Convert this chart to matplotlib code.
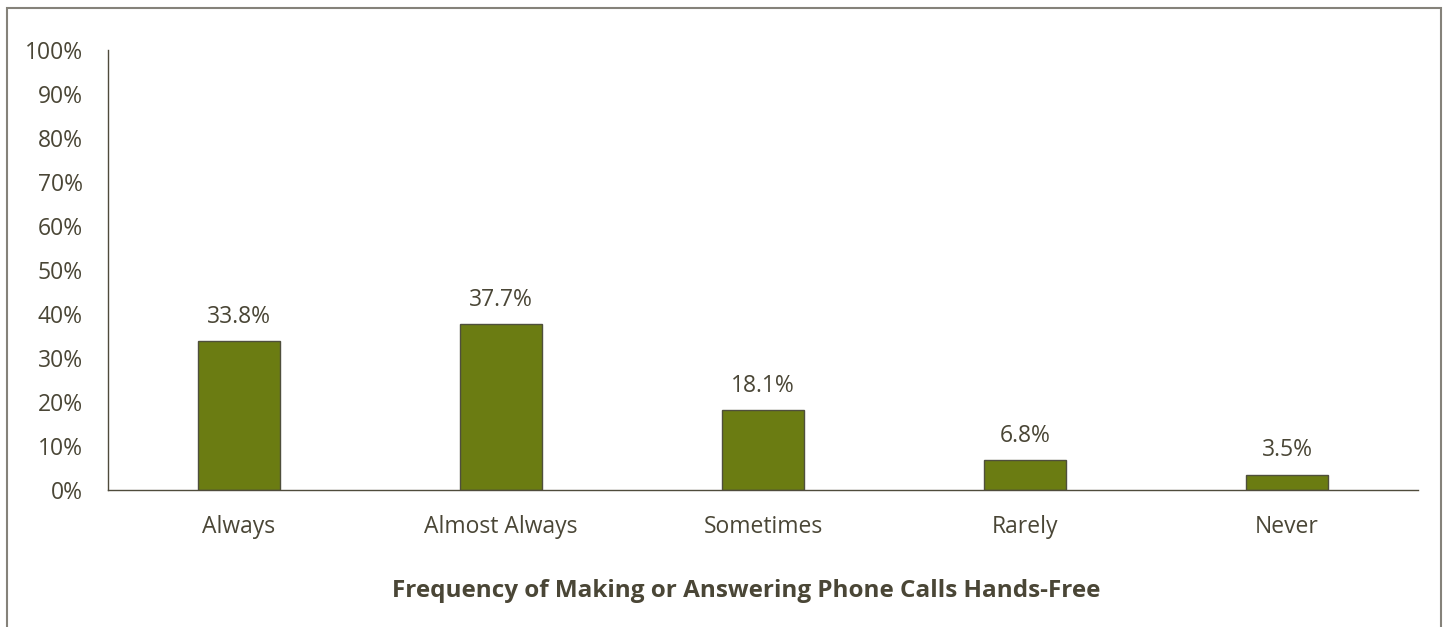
import matplotlib.pyplot as plt
import numpy as np
from matplotlib.patches import Rectangle

categories = ["Always", "Almost Always", "Sometimes", "Rarely", "Never"]
values = [33.8, 37.7, 18.1, 6.8, 3.5]
yticks = [0, 10, 20, 30, 40, 50, 60, 70, 80, 90, 100]

txt = "#4a4636"
plt.rcParams['font.family'] = ['Open Sans', 'DejaVu Sans']

fig = plt.figure(figsize=(14.45, 6.27), dpi=100)
ax = fig.add_axes([0.0747, 0.2185, 0.9066, 0.7018])

x = np.arange(len(categories))
ax.bar(x, values, width=0.31, color="#6b7c12", edgecolor="#4f4f3c", linewidth=1)
for xi, v in zip(x, values):
    ax.annotate(f"{v:.1f}%", (xi, v), xytext=(0, 9), textcoords="offset points",
                ha="center", va="bottom", fontsize=16.5, color=txt)

ax.set_xlim(-0.5, len(categories) - 0.5)
ax.set_ylim(0, 100)
ax.set_yticks(yticks)
ax.set_yticklabels([f"{t}%" for t in yticks], fontsize=16.5, color=txt)
ax.set_xticks(x)
ax.set_xticklabels(categories, fontsize=16.5, color=txt)
ax.tick_params(axis="y", length=0, pad=18)
ax.tick_params(axis="x", length=0, pad=18)
for s in ["top", "right"]:
    ax.spines[s].set_visible(False)
for s in ["left", "bottom"]:
    ax.spines[s].set_color("#4f4b3c")
    ax.spines[s].set_linewidth(1)

ax.set_xlabel("Frequency of Making or Answering Phone Calls Hands-Free",
              fontsize=17.5, fontweight="bold", color=txt)
ax.xaxis.set_label_coords(0.487, -0.202)

# outer frame around the figure
fig.patches.append(Rectangle((7 / 1445, -0.05), (1441 - 7) / 1445, 1.05 - 8 / 627,
                             transform=fig.transFigure, fill=False,
                             edgecolor="#85827a", linewidth=1.5))

fig.savefig("out.png", dpi=100)
